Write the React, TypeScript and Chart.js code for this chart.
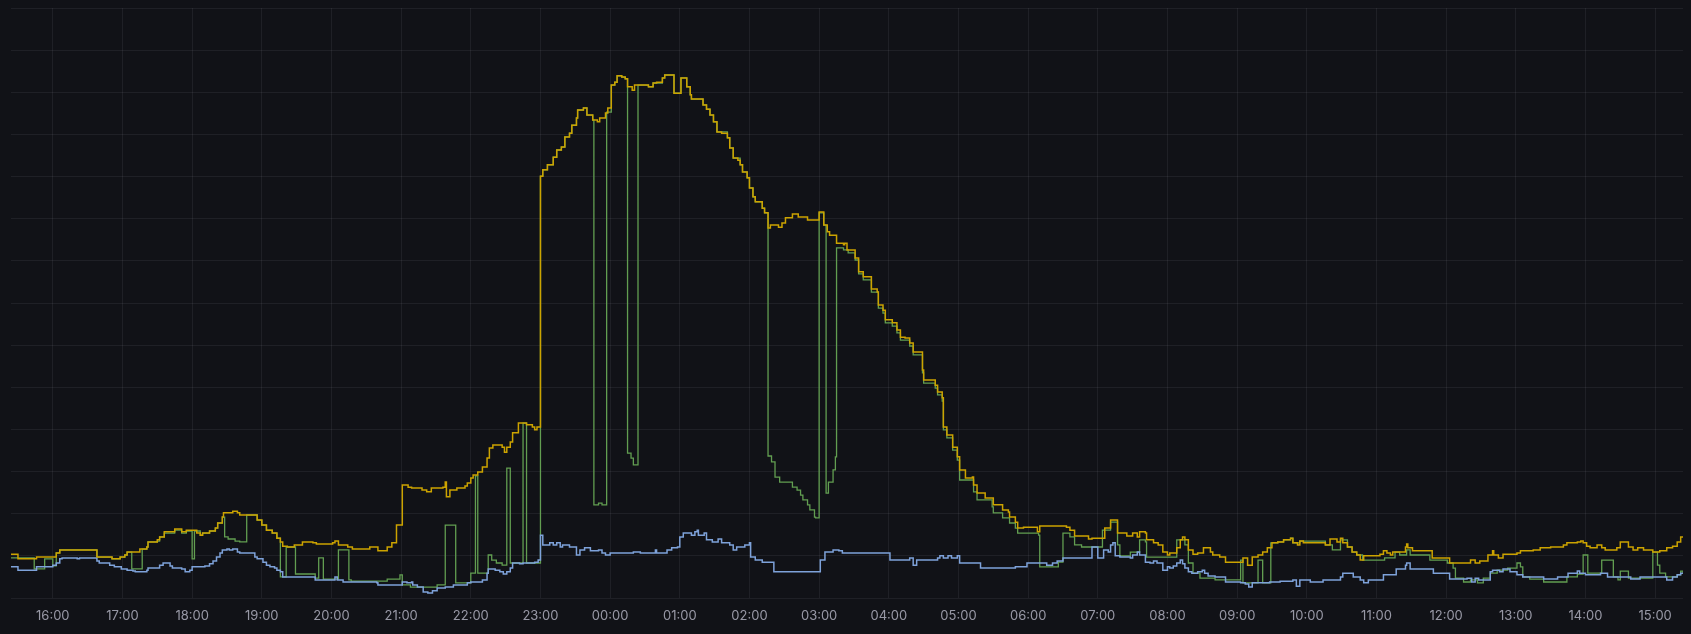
import { useEffect, useRef } from "react";
import { Chart, registerables } from "chart.js";

Chart.register(...registerables);

// time axis in minutes since 15:00 (day 1); 1440 = 15:00 next day
const hourTicks = [60, 120, 180, 240, 300, 360, 420, 480, 540, 600, 660, 720, 780, 840, 900, 960, 1020, 1080, 1140, 1200, 1260, 1320, 1380, 1440];

const yellowMinutes = [24,30,46,63,66,98,111,118,122,124,135,141,142,150,152,156,165,171,175,184,187,189,195,200,202,206,207,215,219,221,236,240,244,249,253,256,258,262,268,275,284,287,301,303,306,314,318,333,340,348,352,356,361,366,369,378,382,386,396,398,399,402,408,415,417,420,422,426,430,434,436,439,447,449,451,454,456,461,468,473,475,477,480,482,486,491,494,498,501,505,507,511,512,517,520,525,529,531,536,538,541,544,546,550,553,555,559,561,573,577,580,585,587,595,601,606,609,610,620,623,626,629,632,636,641,643,646,650,652,654,658,660,663,665,671,673,676,678,685,688,691,697,702,710,720,724,727,729,735,741,742,744,751,754,758,765,770,771,775,777,783,787,790,794,798,801,809,810,820,822,826,827,830,835,839,841,846,852,853,856,863,870,878,883,884,889,891,896,908,910,933,936,940,952,955,966,971,977,985,990,994,996,1001,1002,1008,1012,1016,1020,1022,1028,1031,1033,1035,1038,1042,1046,1051,1057,1059,1065,1070,1085,1089,1093,1098,1102,1106,1110,1115,1120,1126,1128,1132,1134,1137,1156,1160,1166,1169,1171,1175,1179,1183,1186,1189,1203,1206,1209,1212,1214,1225,1226,1227,1231,1248,1263,1281,1285,1289,1296,1300,1301,1305,1309,1321,1324,1335,1341,1350,1361,1364,1373,1376,1378,1381,1384,1390,1394,1397,1407,1410,1417,1421,1425,1430,1438,1444,1450,1455,1459,1462,1464];
const yellowValues = [10.4,9.3,9.7,10.7,11.4,9.7,9.3,9.7,10.2,10.9,11.6,12.1,13.3,13.8,14.5,15.7,16.4,15.7,16.1,15.4,14.9,15.4,15.9,16.6,17.8,19.2,20.2,20.6,20.2,19.7,18.5,17.3,16.1,15.4,14.2,13.3,12.3,12.1,12.6,13.3,13.1,12.8,13.1,13.5,12.6,12.1,11.6,12.1,11.2,12.1,13.1,17.3,26.8,26.3,26.1,25.6,25.2,26.1,26.3,27.5,24.0,25.6,26.1,26.6,27.3,28.5,29.2,29.9,31.1,33.2,35.6,36.3,35.8,34.6,35.8,37.0,39.2,41.5,41.1,40.6,39.9,40.6,100.1,101.6,102.8,104.6,106.3,107.0,109.4,110.3,112.2,113.9,115.8,116.3,114.6,113.4,113.0,113.9,115.1,116.3,121.7,122.4,123.9,123.6,123.2,121.3,120.5,121.7,121.3,122.2,122.4,123.4,124.1,119.8,123.4,121.3,119.4,118.4,117.0,116.0,114.6,113.0,110.6,110.3,109.2,106.8,104.4,103.9,102.8,101.1,99.7,97.3,95.2,94.0,92.5,91.4,87.8,88.5,88.0,89.0,90.2,91.1,90.4,89.7,91.6,88.5,86.9,86.1,84.2,83.8,84.2,82.6,80.7,77.4,76.2,73.3,72.6,69.5,68.3,66.0,65.3,63.6,61.9,61.7,60.5,58.4,54.1,51.7,50.5,48.9,47.5,40.6,38.7,35.8,33.5,30.4,28.5,28.7,26.8,24.9,23.7,22.1,20.9,20.4,19.2,18.0,16.6,16.8,15.7,17.1,16.8,16.1,14.7,14.0,14.2,16.6,18.5,15.4,14.7,15.4,14.5,15.7,15.4,13.8,13.1,12.6,10.9,10.2,10.7,11.9,13.8,14.5,13.8,11.4,10.4,10.7,11.9,10.9,10.2,9.7,8.5,9.5,7.8,9.7,10.2,10.9,11.9,13.1,13.3,13.8,14.2,13.1,12.6,13.5,13.1,12.6,14.0,13.3,14.2,13.1,12.1,10.9,10.2,9.0,10.0,10.4,11.2,10.7,10.2,10.9,12.1,12.8,11.9,11.2,9.5,8.3,9.0,8.3,8.8,10.2,11.2,10.2,9.5,10.4,10.7,11.2,11.4,11.9,12.1,12.6,13.1,13.3,13.5,13.1,12.3,11.9,12.6,11.9,11.4,11.9,13.3,12.1,11.4,11.9,11.4,10.9,11.2,11.9,12.3,13.3,14.5,14.5];

const greenMinutes = [24,44,53,60,63,66,98,111,118,122,124,128,137,141,142,150,152,156,165,171,175,180,182,187,189,195,200,202,206,208,211,217,221,227,236,240,244,249,253,256,261,269,286,289,293,306,315,317,348,359,361,368,391,398,407,420,424,426,435,438,442,447,451,454,465,468,480,482,486,491,494,498,501,505,507,511,512,517,520,525,526,530,533,537,541,544,546,550,553,555,558,560,564,573,577,585,587,595,601,606,609,610,620,623,626,629,632,641,643,646,652,654,658,660,663,665,671,673,676,679,682,686,697,701,704,706,710,712,716,717,720,724,726,728,732,734,735,741,745,751,754,758,765,771,775,777,783,787,790,798,801,809,810,820,822,826,827,830,835,839,841,853,856,869,870,878,884,889,891,909,910,926,930,936,940,946,964,971,977,979,988,996,1001,1002,1028,1035,1038,1042,1048,1061,1083,1085,1098,1102,1109,1115,1120,1126,1128,1134,1156,1162,1169,1175,1179,1183,1188,1207,1216,1220,1226,1229,1246,1261,1266,1268,1275,1281,1287,1292,1298,1304,1313,1321,1324,1326,1332,1344,1364,1373,1378,1382,1394,1404,1408,1410,1417,1438,1442,1444,1449,1459,1462,1464];
const greenValues = [9.5,6.9,9.3,7.6,10.7,11.4,9.7,9.3,9.7,10.2,10.9,6.9,11.6,12.1,13.3,13.5,14.5,15.4,16.1,15.4,15.9,9.3,15.9,14.9,15.4,15.9,16.6,17.8,19.2,14.5,14.0,13.5,13.3,19.7,18.5,17.3,16.1,15.4,14.2,5.0,12.1,5.7,4.7,9.5,4.5,11.4,4.3,4.0,4.5,5.5,3.1,2.6,3.1,17.3,3.6,5.9,29.0,5.9,10.2,9.0,8.3,7.8,30.8,8.3,41.5,8.3,100.1,101.6,102.8,104.6,106.3,107.0,109.4,110.3,112.2,113.9,115.8,116.3,114.6,113.4,22.1,22.5,22.1,115.3,121.7,122.4,123.9,123.6,123.2,34.4,33.2,31.6,121.7,121.3,122.2,123.4,124.1,119.8,123.4,121.3,119.4,118.4,117.0,116.0,114.6,113.0,110.6,109.2,106.8,104.4,102.8,101.1,99.7,97.3,95.2,94.0,92.5,91.4,33.7,32.3,28.7,27.5,26.3,25.6,24.4,23.3,22.1,20.9,19.2,19.0,91.4,88.5,24.9,27.5,30.4,33.5,83.1,82.6,81.9,80.2,76.9,75.5,72.6,68.8,67.6,65.3,64.5,62.9,61.2,59.8,57.7,53.4,51.0,49.8,48.2,46.7,39.9,38.0,35.1,32.7,28.0,25.2,23.3,21.6,20.2,19.0,17.8,16.6,15.4,14.9,7.4,8.5,15.4,14.5,12.6,12.1,16.1,18.0,12.6,10.0,10.9,13.8,13.3,9.7,13.8,12.6,8.3,5.9,4.7,4.3,9.0,3.6,9.0,3.6,13.1,13.3,13.8,14.2,13.1,13.5,12.6,11.4,13.8,12.1,10.9,10.2,9.0,9.5,10.9,10.2,11.4,10.2,9.0,8.3,7.1,4.7,3.8,4.3,3.6,4.7,5.9,6.6,7.1,8.3,7.4,5.0,4.5,3.8,5.0,5.7,10.2,5.9,9.0,5.0,4.3,6.4,4.7,10.9,7.8,5.9,5.0,5.5,6.4,5.7];

const blueMinutes = [24,30,46,60,63,66,68,81,83,98,100,109,113,119,124,129,131,141,142,152,155,161,163,171,174,178,180,191,195,198,201,204,206,210,212,215,219,221,234,236,241,244,247,251,253,256,258,286,303,305,310,339,340,361,365,369,370,374,379,383,387,391,398,405,417,420,430,434,435,441,445,448,451,454,456,462,465,475,478,480,482,488,491,494,497,499,505,511,514,518,523,530,533,536,540,560,566,579,580,589,593,598,600,603,610,613,615,616,621,623,628,633,636,643,646,649,656,660,661,665,671,681,721,725,732,737,740,781,798,801,804,822,824,827,831,834,839,841,859,889,899,916,921,925,930,955,960,965,969,971,973,975,979,988,990,994,996,1001,1005,1008,1011,1016,1020,1022,1025,1028,1031,1033,1035,1038,1041,1046,1050,1052,1055,1061,1070,1083,1087,1090,1093,1108,1117,1128,1131,1134,1143,1154,1169,1171,1180,1186,1189,1193,1206,1217,1225,1226,1229,1249,1263,1278,1282,1285,1288,1298,1300,1306,1309,1315,1321,1326,1344,1356,1365,1373,1375,1380,1393,1399,1419,1427,1450,1455,1459,1462,1464];
const blueValues = [7.4,6.6,7.4,7.8,8.3,9.3,9.5,9.3,9.5,8.8,8.3,7.8,7.4,6.9,6.6,6.4,6.2,6.6,7.1,7.8,8.3,7.6,7.1,6.9,6.2,6.6,7.4,7.6,8.1,8.8,9.7,10.7,11.4,11.6,11.4,11.6,10.9,10.7,9.7,9.3,8.5,7.8,7.4,7.1,6.6,6.2,5.0,4.3,5.0,4.3,3.8,3.6,3.1,3.8,3.6,3.8,3.1,2.6,1.4,1.2,1.7,2.4,2.6,3.1,3.6,3.8,4.3,5.9,6.9,6.6,6.2,5.7,6.2,7.1,8.3,8.1,8.3,8.5,9.0,14.9,12.6,13.1,12.6,13.1,12.1,12.6,12.1,10.2,11.4,11.9,11.2,11.4,10.7,10.2,10.7,10.9,10.7,11.4,10.7,11.4,11.9,12.1,14.5,15.4,14.9,15.7,16.1,14.9,15.4,13.8,13.3,14.0,13.1,12.6,11.4,12.1,12.6,13.1,9.7,9.0,8.5,6.2,9.0,10.9,11.4,11.2,10.7,9.0,9.5,7.8,9.0,9.5,10.0,9.5,10.0,9.5,10.0,8.3,7.1,7.4,8.3,7.8,8.3,8.8,9.5,12.1,9.5,11.4,10.9,12.6,13.1,10.0,9.7,9.5,10.2,10.9,10.2,8.5,8.3,8.8,8.3,6.6,7.4,7.1,7.6,8.3,9.0,8.1,7.1,6.2,5.9,6.2,6.6,5.9,5.2,5.0,3.8,3.6,3.3,2.6,3.6,3.8,4.0,4.3,2.8,4.3,3.8,4.3,5.0,5.9,5.0,4.3,3.6,4.3,5.5,6.9,7.8,8.3,6.9,5.9,4.5,4.7,3.8,4.7,4.3,6.2,6.6,6.2,6.9,6.2,5.5,5.0,4.5,5.0,5.9,6.4,5.9,5.5,5.9,5.0,4.5,5.0,4.3,5.0,5.5,5.9,5.7];

const YELLOW = "#CCA300";
const GREEN = "#629E51";
const BLUE = "#7EA2DA";
const GRID = "rgba(204, 204, 220, 0.08)";
const TICK = "rgba(204, 204, 220, 0.72)";

function pts(ts: number[], vs: number[]) {
  return ts.map((t, i) => ({ x: t, y: vs[i] }));
}

function hourLabel(v: number) {
  const h = Math.round(15 + v / 60) % 24;
  return (h < 10 ? "0" : "") + h + ":00";
}

export default function App() {
  const ref = useRef<HTMLCanvasElement>(null);
  useEffect(() => {
    if (!ref.current) return;
    const common = {
      stepped: true as const,
      pointRadius: 0,
      borderWidth: 1.5,
      tension: 0,
      fill: false,
    };
    const chart = new Chart(ref.current, {
      type: "line",
      data: {
        datasets: [
          { label: "A", data: pts(yellowMinutes, yellowValues), borderColor: YELLOW, ...common },
          { label: "C", data: pts(blueMinutes, blueValues), borderColor: BLUE, ...common },
          { label: "B", data: pts(greenMinutes, greenValues), borderColor: GREEN, ...common, borderWidth: 1.3 },
        ],
      },
      options: {
        responsive: false,
        animation: false,
        events: [],
        layout: { padding: { left: 11, right: 8, top: 8, bottom: 0 } },
        plugins: { legend: { display: false }, tooltip: { enabled: false } },
        scales: {
          x: {
            type: "linear",
            min: 24,
            max: 1464,
            afterBuildTicks: (s: any) => {
              s.ticks = hourTicks.map((v) => ({ value: v }));
            },
            afterFit: (s: any) => {
              s.height = 36;
            },
            grid: { color: GRID, drawTicks: false, lineWidth: 1 },
            border: { display: false },
            ticks: {
              color: TICK,
              font: { family: "Inter", size: 13 },
              padding: 10,
              maxRotation: 0,
              autoSkip: false,
              callback: (v: any) => hourLabel(Number(v)),
            },
          },
          y: {
            min: 0,
            max: 140,
            afterFit: (s: any) => {
              s.width = 0;
            },
            ticks: { display: false, stepSize: 10 },
            grid: { color: GRID, drawTicks: false, lineWidth: 1 },
            border: { display: false },
          },
        },
      },
    });
    return () => chart.destroy();
  }, []);
  return (
    <div style={{ position: "absolute", left: 0, top: 0, width: 1691, height: 634, background: "#111217" }}>
      <canvas ref={ref} width={1691} height={634} style={{ display: "block" }} />
    </div>
  );
}
